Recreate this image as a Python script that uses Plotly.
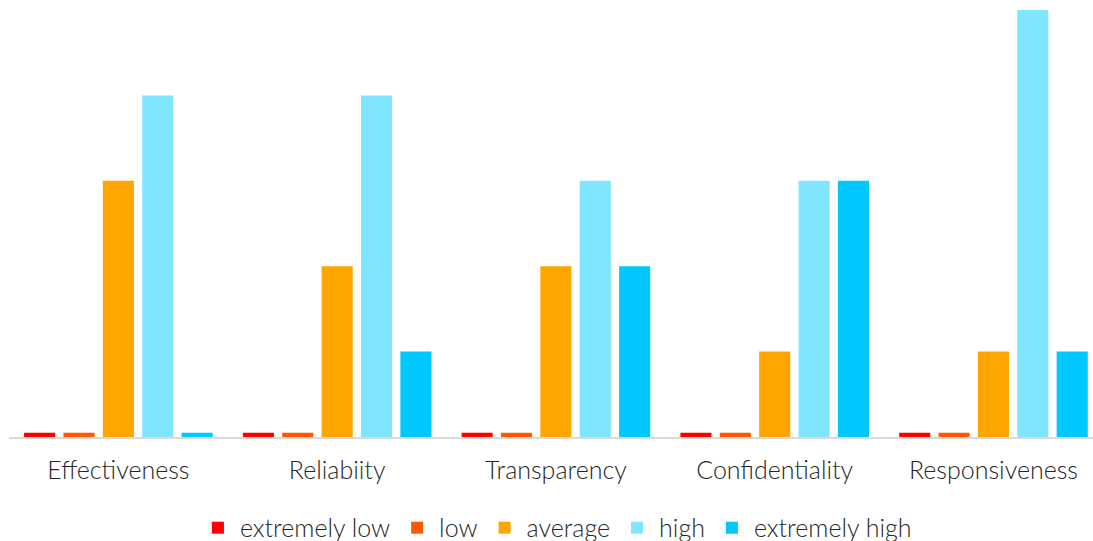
import plotly.graph_objects as go

categories = ["Effectiveness", "Reliabiity", "Transparency", "Confidentiality", "Responsiveness"]
series_names = ["extremely low", "low", "average", "high", "extremely high"]
extremely_low = [0.05, 0.05, 0.05, 0.05, 0.05]
low = [0.05, 0.05, 0.05, 0.05, 0.05]
average = [3, 2, 2, 1, 1]
high = [4, 4, 3, 3, 5]
extremely_high = [0.05, 1, 2, 3, 1]
colors = ["#FF0000", "#FF5A00", "#FFA500", "#80E5FF", "#00C8FF"]

values = [extremely_low, low, average, high, extremely_high]

fig = go.Figure()
for name, vals, col in zip(series_names, values, colors):
    fig.add_trace(go.Bar(x=categories, y=vals, name=name, marker=dict(color=col, line=dict(width=0))))

font = "Lato, 'Open Sans', sans-serif"
txt = "#262626"
fig.update_layout(
    width=1093, height=541,
    margin=dict(l=9, r=0, t=10, b=104, autoexpand=False),
    paper_bgcolor="white", plot_bgcolor="white",
    barmode="group", bargap=0.10, bargroupgap=0.21,
    font=dict(family=font, size=25, color=txt, weight=300),
    legend=dict(orientation="h", x=0.505, xanchor="center", y=-0.213, yanchor="middle",
                font=dict(size=25, color=txt, weight=300), itemsizing="constant",
                itemwidth=34),
    xaxis=dict(range=[-0.5, 4.455], showgrid=False, showline=True, linecolor="#D9D9D9", linewidth=2,
               ticks="", ticklabelstandoff=10, automargin=False,
               tickfont=dict(size=25, color=txt, weight=300)),
    yaxis=dict(range=[0, 5], visible=False, showgrid=False, automargin=False),
)
fig.write_html("out.html")
